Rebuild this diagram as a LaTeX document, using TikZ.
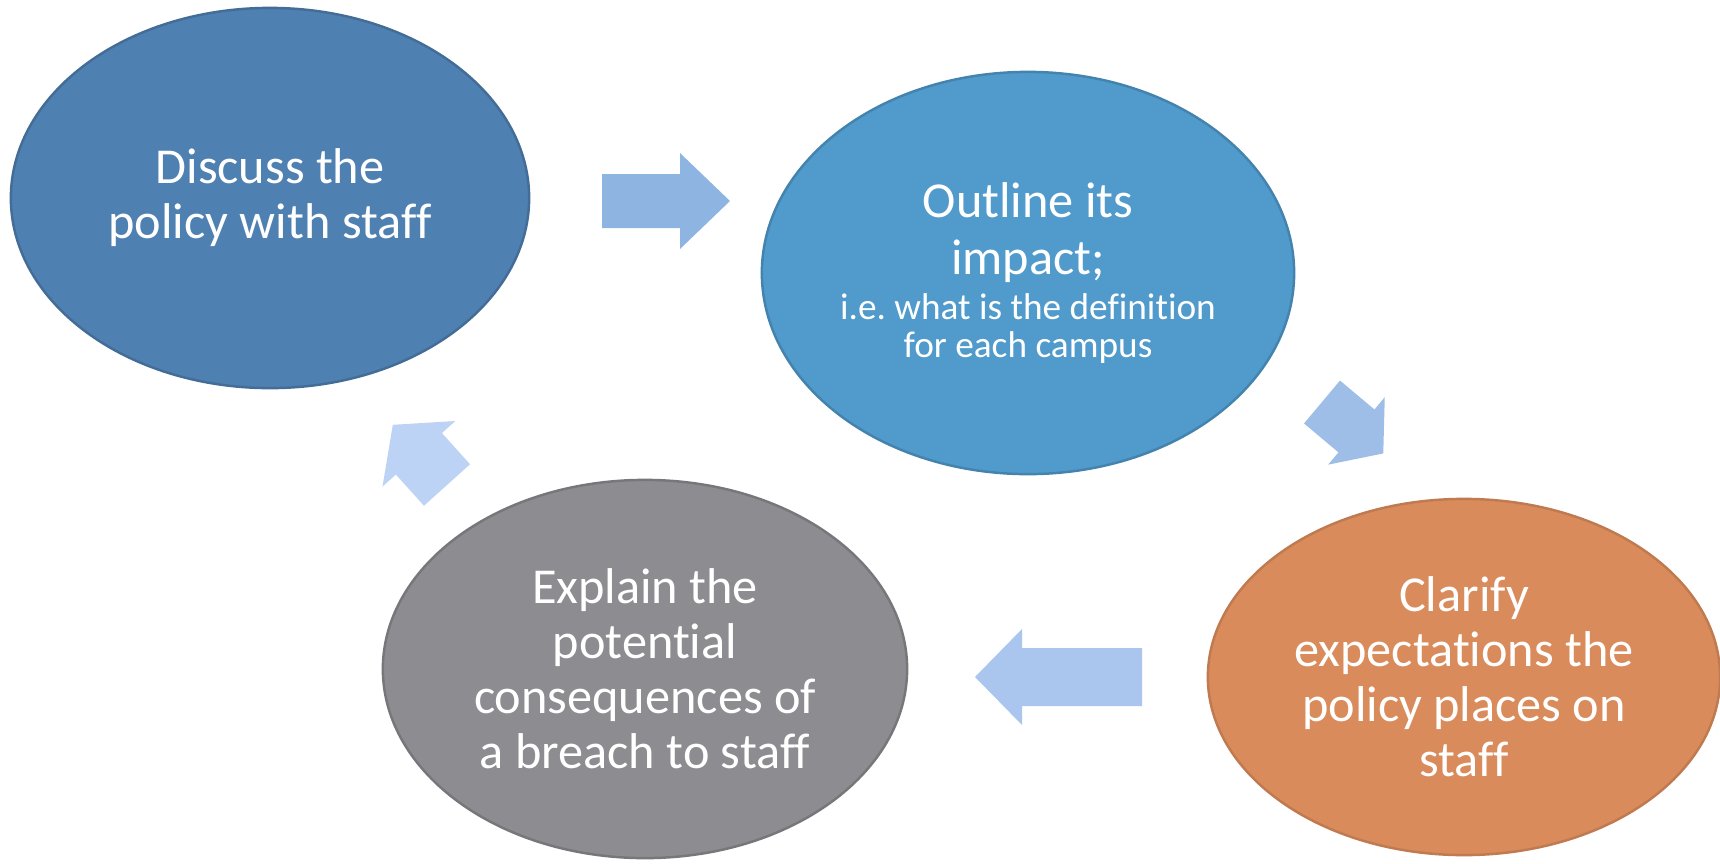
\documentclass[tikz,border=0pt]{standalone}
\usepackage{fontspec}
\setmainfont{Carlito}[Ligatures=NoCommon]
\usepackage{xcolor}
\usetikzlibrary{shapes.geometric}
\frenchspacing

\definecolor{discussblue}{HTML}{4F80B2}
\definecolor{outlineblue}{HTML}{509ACC}
\definecolor{clarifyorange}{HTML}{D98B5B}
\definecolor{explaingray}{HTML}{8C8C91}
\definecolor{arrowA}{HTML}{8EB4E2}
\definecolor{arrowB}{HTML}{9EBEE8}
\definecolor{arrowC}{HTML}{AAC6EE}
\definecolor{arrowD}{HTML}{BDD3F5}

\begin{document}
\begin{tikzpicture}[x=0.01cm, y=-0.01cm,
  stage/.style={ellipse, inner sep=0pt, align=center, text=white,
    line width=0.7pt, font=\fontsize{14.3pt}{15.6pt}\selectfont},
  pics/blockarrow/.style n args={4}{code={
    \fill (0,-#2) -- (#1-#4,-#2) -- (#1-#4,-#3) -- (#1,0) -- (#1-#4,#3) -- (#1-#4,#2) -- (0,#2) -- cycle;
  }}]
  \useasboundingbox (0,0) rectangle (1720,863);

  % the four stages of the cycle
  \node[stage, fill=discussblue, draw=discussblue!85!black,
    minimum width=5.18cm, minimum height=3.80cm] (discuss) at (270,198)
    {Discuss the\\policy with staff};
  \node[stage, fill=outlineblue, draw=outlineblue!85!black,
    minimum width=5.32cm, minimum height=4.02cm] (outline) at (1028,273)
    {Outline its\\[0.5pt]impact;\\[-2.8pt]{\fontsize{10.6pt}{10.8pt}\selectfont i.e. what is the definition}\\[-4.8pt]{\fontsize{10.6pt}{10.8pt}\selectfont for each campus}};
  \node[stage, fill=clarifyorange, draw=clarifyorange!88!black,
    minimum width=5.12cm, minimum height=3.56cm] (clarify) at (1464,677)
    {Clarify\\expectations the\\policy places on\\staff};
  \node[stage, fill=explaingray, draw=explaingray!85!black,
    minimum width=5.24cm, minimum height=3.78cm] (explain) at (645,669)
    {Explain the\\potential\\consequences of\\a breach to staff};

  % block arrows between the stages
  \pic[fill=arrowA] at (602,201) {blockarrow={128}{27}{48}{50}};
  \pic[fill=arrowB, rotate=-40] at (1322,402) {blockarrow={80}{28}{44}{35}};
  \pic[fill=arrowC, rotate=180] at (1142,677) {blockarrow={167}{29}{48}{47}};
  \pic[fill=arrowD, rotate=132] at (447,485) {blockarrow={81}{31}{49}{39}};
\end{tikzpicture}
\end{document}
